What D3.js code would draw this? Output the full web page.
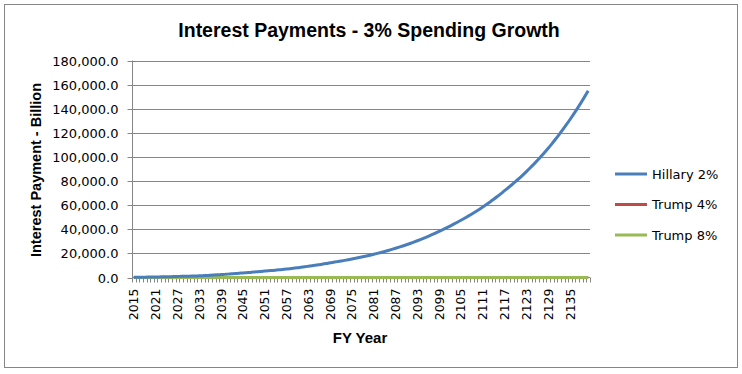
<!DOCTYPE html>
<html><head><meta charset="utf-8">
<script src="https://cdn.jsdelivr.net/npm/d3@7"></script>
<style>body{margin:0;background:#fff}svg{display:block}</style>
</head><body>
<svg id="c" width="742" height="374"></svg>
<script>
const title = "Interest Payments - 3% Spending Growth";
const yTitle = "Interest Payment - Billion";
const xTitle = "FY Year";
const seriesNames = ["Hillary 2%", "Trump 4%", "Trump 8%"];
const seriesColors = ["#4A7EBB", "#BE4B48", "#98B954"];
const years = d3.range(2015, 2141);
const yTicks = [0, 20000, 40000, 60000, 80000, 100000, 120000, 140000, 160000, 180000];
const xTickLabels = [2015, 2021, 2027, 2033, 2039, 2045, 2051, 2057, 2063, 2069, 2075, 2081, 2087, 2093, 2099, 2105, 2111, 2117, 2123, 2129, 2135];

const hillary = [
  200, 230, 262, 300, 345, 395, 450, 505, 567, 636,
  714, 801, 900, 968, 1042, 1121, 1207, 1299, 1400, 1532,
  1676, 1834, 2006, 2195, 2400, 2592, 2800, 3024, 3266, 3527,
  3800, 4017, 4246, 4488, 4744, 5014, 5300, 5552, 5816, 6092,
  6381, 6684, 7000, 7339, 7695, 8068, 8459, 8869, 9300, 9731,
  10181, 10652, 11145, 11661, 12200, 12670, 13158, 13664, 14190, 14736,
  15300, 15897, 16517, 17161, 17830, 18526, 19248, 20000, 20780, 21590,
  22432, 23307, 24216, 25161, 26142, 27162, 28221, 29322, 30465, 31653,
  32888, 34170, 35503, 36888, 38326, 39721, 41167, 42665, 44218, 45828,
  47496, 49177, 50913, 52710, 54571, 56497, 58491, 60556, 62694, 64907,
  67198, 69570, 72026, 74426, 76934, 79527, 82207, 84977, 87841, 90801,
  93861, 97024, 100298, 103708, 107234, 110880, 114650, 118548, 122579, 126747,
  131056, 135512, 140120, 144884, 149810, 154904
];
const trump4 = [
  0,0,0,0,0,0,0,0,0,0, 0,0,0,0,0,0,0,0,0,0, 0,0,0,0,0,0,0,0,0,0,
  0,0,0,0,0,0,0,0,0,0, 0,0,0,0,0,0,0,0,0,0, 0,0,0,0,0,0,0,0,0,0,
  0,0,0,0,0,0,0,0,0,0, 0,0,0,0,0,0,0,0,0,0, 0,0,0,0,0,0,0,0,0,0,
  0,0,0,0,0,0,0,0,0,0, 0,0,0,0,0,0,0,0,0,0, 0,0,0,0,0,0,0,0,0,0,
  0,0,0,0,0,0
];
const trump8 = [
  0,0,0,0,0,0,0,0,0,0, 0,0,0,0,0,0,0,0,0,0, 0,0,0,0,0,0,0,0,0,0,
  0,0,0,0,0,0,0,0,0,0, 0,0,0,0,0,0,0,0,0,0, 0,0,0,0,0,0,0,0,0,0,
  0,0,0,0,0,0,0,0,0,0, 0,0,0,0,0,0,0,0,0,0, 0,0,0,0,0,0,0,0,0,0,
  0,0,0,0,0,0,0,0,0,0, 0,0,0,0,0,0,0,0,0,0, 0,0,0,0,0,0,0,0,0,0,
  0,0,0,0,0,0
];
const seriesData = [hillary, trump4, trump8];

const svg = d3.select("#c");
const grey = "#868686";
const tickFont = "'DejaVu Sans', Tahoma, sans-serif";
const boldFont = "'Liberation Sans', Arial, sans-serif";

svg.append("rect").attr("x", 4.5).attr("y", 4.5).attr("width", 733).attr("height", 363)
  .attr("fill", "#fff").attr("stroke", grey).attr("stroke-width", 1);

const L = 132, R = 590, T = 60.5, B = 277.5;
const x = d3.scaleBand().domain(years).range([L, R]);
const y = d3.scaleLinear().domain([0, 180000]).range([B, T]);

// gridlines
svg.append("g").selectAll("line").data(yTicks.filter(d => d > 0)).join("line")
  .attr("x1", L).attr("x2", R).attr("y1", d => Math.round(y(d)) + 0.5).attr("y2", d => Math.round(y(d)) + 0.5)
  .attr("stroke", grey).attr("stroke-width", 1);

// y axis
const yAxis = svg.append("g").attr("transform", `translate(${L + 0.5},0)`)
  .call(d3.axisLeft(y).tickValues(yTicks).tickSize(5).tickPadding(9)
    .tickFormat(d => d3.format(",.1f")(d)));
yAxis.select(".domain").attr("stroke", grey).attr("d", `M0,${T}V${B}`);
yAxis.selectAll(".tick line").attr("stroke", grey);
yAxis.selectAll(".tick").attr("transform", d => `translate(0,${Math.round(y(d)) + 0.5})`);
yAxis.selectAll("text").attr("font-family", tickFont).attr("font-size", 13).attr("fill", "#000");

// x axis: ticks between categories
const xg = svg.append("g");
xg.append("line").attr("x1", L).attr("x2", R).attr("y1", B).attr("y2", B).attr("stroke", grey);
const bounds = years.map(d => x(d)).concat([R]);
xg.selectAll("line.t").data(bounds).join("line").attr("class", "t")
  .attr("x1", d => Math.round(d) + 0.5).attr("x2", d => Math.round(d) + 0.5)
  .attr("y1", B).attr("y2", B + 5).attr("stroke", grey);
xg.selectAll("text").data(xTickLabels).join("text")
  .attr("transform", d => `translate(${x(d) + x.bandwidth() / 2},${B + 11}) rotate(-90)`)
  .attr("text-anchor", "end").attr("dy", "0.36em")
  .attr("font-family", tickFont).attr("font-size", 12.5).attr("fill", "#000")
  .text(d => d);

// lines
const line = d3.line().x((d, i) => x(years[i]) + x.bandwidth() / 2).y(d => y(d)).curve(d3.curveMonotoneX);
[1, 2, 0].forEach(k => {
  svg.append("path").datum(seriesData[k]).attr("fill", "none")
    .attr("stroke", seriesColors[k]).attr("stroke-width", 3).attr("stroke-linejoin", "round")
    .attr("d", line);
});

// titles
svg.append("text").attr("x", 369).attr("y", 37).attr("text-anchor", "middle")
  .attr("font-family", boldFont).attr("font-weight", "bold").attr("font-size", 19.5).text(title);
svg.append("text").attr("transform", `translate(41,170) rotate(-90)`).attr("text-anchor", "middle")
  .attr("font-family", boldFont).attr("font-weight", "bold").attr("font-size", 14.5).text(yTitle);
svg.append("text").attr("x", 360).attr("y", 343).attr("text-anchor", "middle")
  .attr("font-family", boldFont).attr("font-weight", "bold").attr("font-size", 15).text(xTitle);

// legend
const lg = svg.append("g").selectAll("g").data(seriesNames).join("g")
  .attr("transform", (d, i) => `translate(615,${174 + i * 30.5})`);
lg.append("line").attr("x1", 0).attr("x2", 32).attr("y1", 0).attr("y2", 0)
  .attr("stroke", (d, i) => seriesColors[i]).attr("stroke-width", 3);
lg.append("text").attr("x", 37).attr("dy", "0.36em")
  .attr("font-family", tickFont).attr("font-size", 13).text(d => d);
</script>
</body></html>
